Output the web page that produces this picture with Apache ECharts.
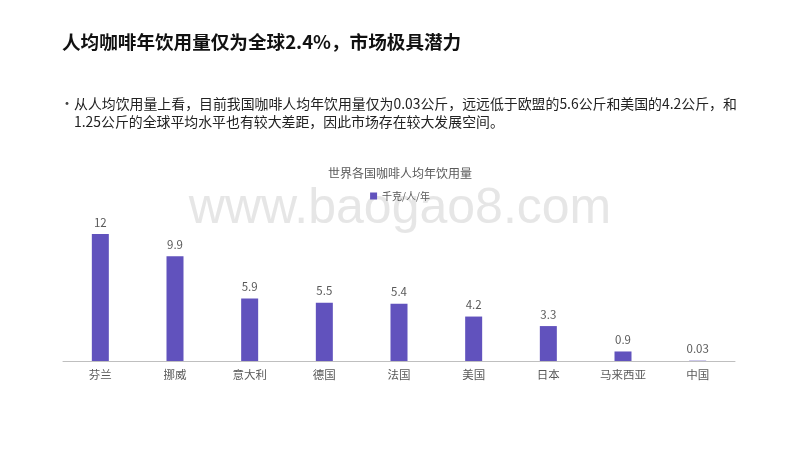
<!DOCTYPE html>
<html>
<head>
<meta charset="utf-8">
<script src="https://cdn.jsdelivr.net/npm/echarts@6/dist/echarts.min.js"></script>
<style>
html,body{margin:0;padding:0;background:#fff;}
#main{width:800px;height:450px;}
</style>
</head>
<body>
<div id="main"></div>
<script>
var countries = ['芬兰', '挪威', '意大利', '德国', '法国', '美国', '日本', '马来西亚', '中国'];
var perCapita = [12, 9.9, 5.9, 5.5, 5.4, 4.2, 3.3, 0.9, 0.03];
var seriesName = '千克/人/年';

var font = '"Noto Sans CJK SC", "Noto Sans", sans-serif';
var myChart = echarts.init(document.getElementById('main'));

myChart.setOption({
    backgroundColor: '#fff',
    textStyle: { fontFamily: font },
    title: {
        text: '世界各国咖啡人均年饮用量',
        left: 'center',
        top: 162,
        textStyle: { fontSize: 12, fontWeight: 'normal', color: '#595959', fontFamily: font }
    },
    legend: {
        top: 186,
        left: 'center',
        itemWidth: 7,
        itemHeight: 7,
        icon: 'rect',
        itemGap: 4,
        textStyle: { fontSize: 10, color: '#595959', fontFamily: font },
        data: [seriesName]
    },
    graphic: [
        {
            type: 'text', left: 62, top: 33, z: 10,
            style: { text: '人均咖啡年饮用量仅为全球2.4%，市场极具潜力', font: 'bold 18.6px ' + font, fill: '#111' }
        },
        {
            type: 'text', left: 60, top: 96,
            style: { text: '•', font: '14px ' + font, fill: '#444' }
        },
        {
            type: 'text', left: 74, top: 95,
            style: {
                text: '从人均饮用量上看，目前我国咖啡人均年饮用量仅为0.03公斤，远远低于欧盟的5.6公斤和美国的4.2公斤，和\n1.25公斤的全球平均水平也有较大差距，因此市场存在较大发展空间。',
                font: '13.9px ' + font, fill: '#222', lineHeight: 18
            }
        },
        {
            type: 'text', left: 'center', top: 184, z: 0,
            style: { text: 'www.baogao8.com', font: '50px "Liberation Sans", Arial, sans-serif', fill: 'rgba(200,200,200,0.45)' }
        }
    ],
    grid: {
        left: 63,
        right: 65,
        top: 234,
        bottom: 89,
        containLabel: false
    },
    xAxis: {
        type: 'category',
        data: countries,
        axisLine: { lineStyle: { color: '#bfbfbf' } },
        axisTick: { show: false },
        axisLabel: { fontSize: 11.5, color: '#595959', margin: 8 }
    },
    yAxis: {
        type: 'value',
        min: 0,
        max: 12,
        show: false
    },
    series: [{
        name: seriesName,
        type: 'bar',
        barWidth: 17,
        data: perCapita,
        itemStyle: { color: '#6152bd' },
        label: {
            show: true,
            position: 'top',
            distance: 6,
            fontSize: 11.5,
            color: '#595959'
        }
    }]
});
</script>
</body>
</html>
